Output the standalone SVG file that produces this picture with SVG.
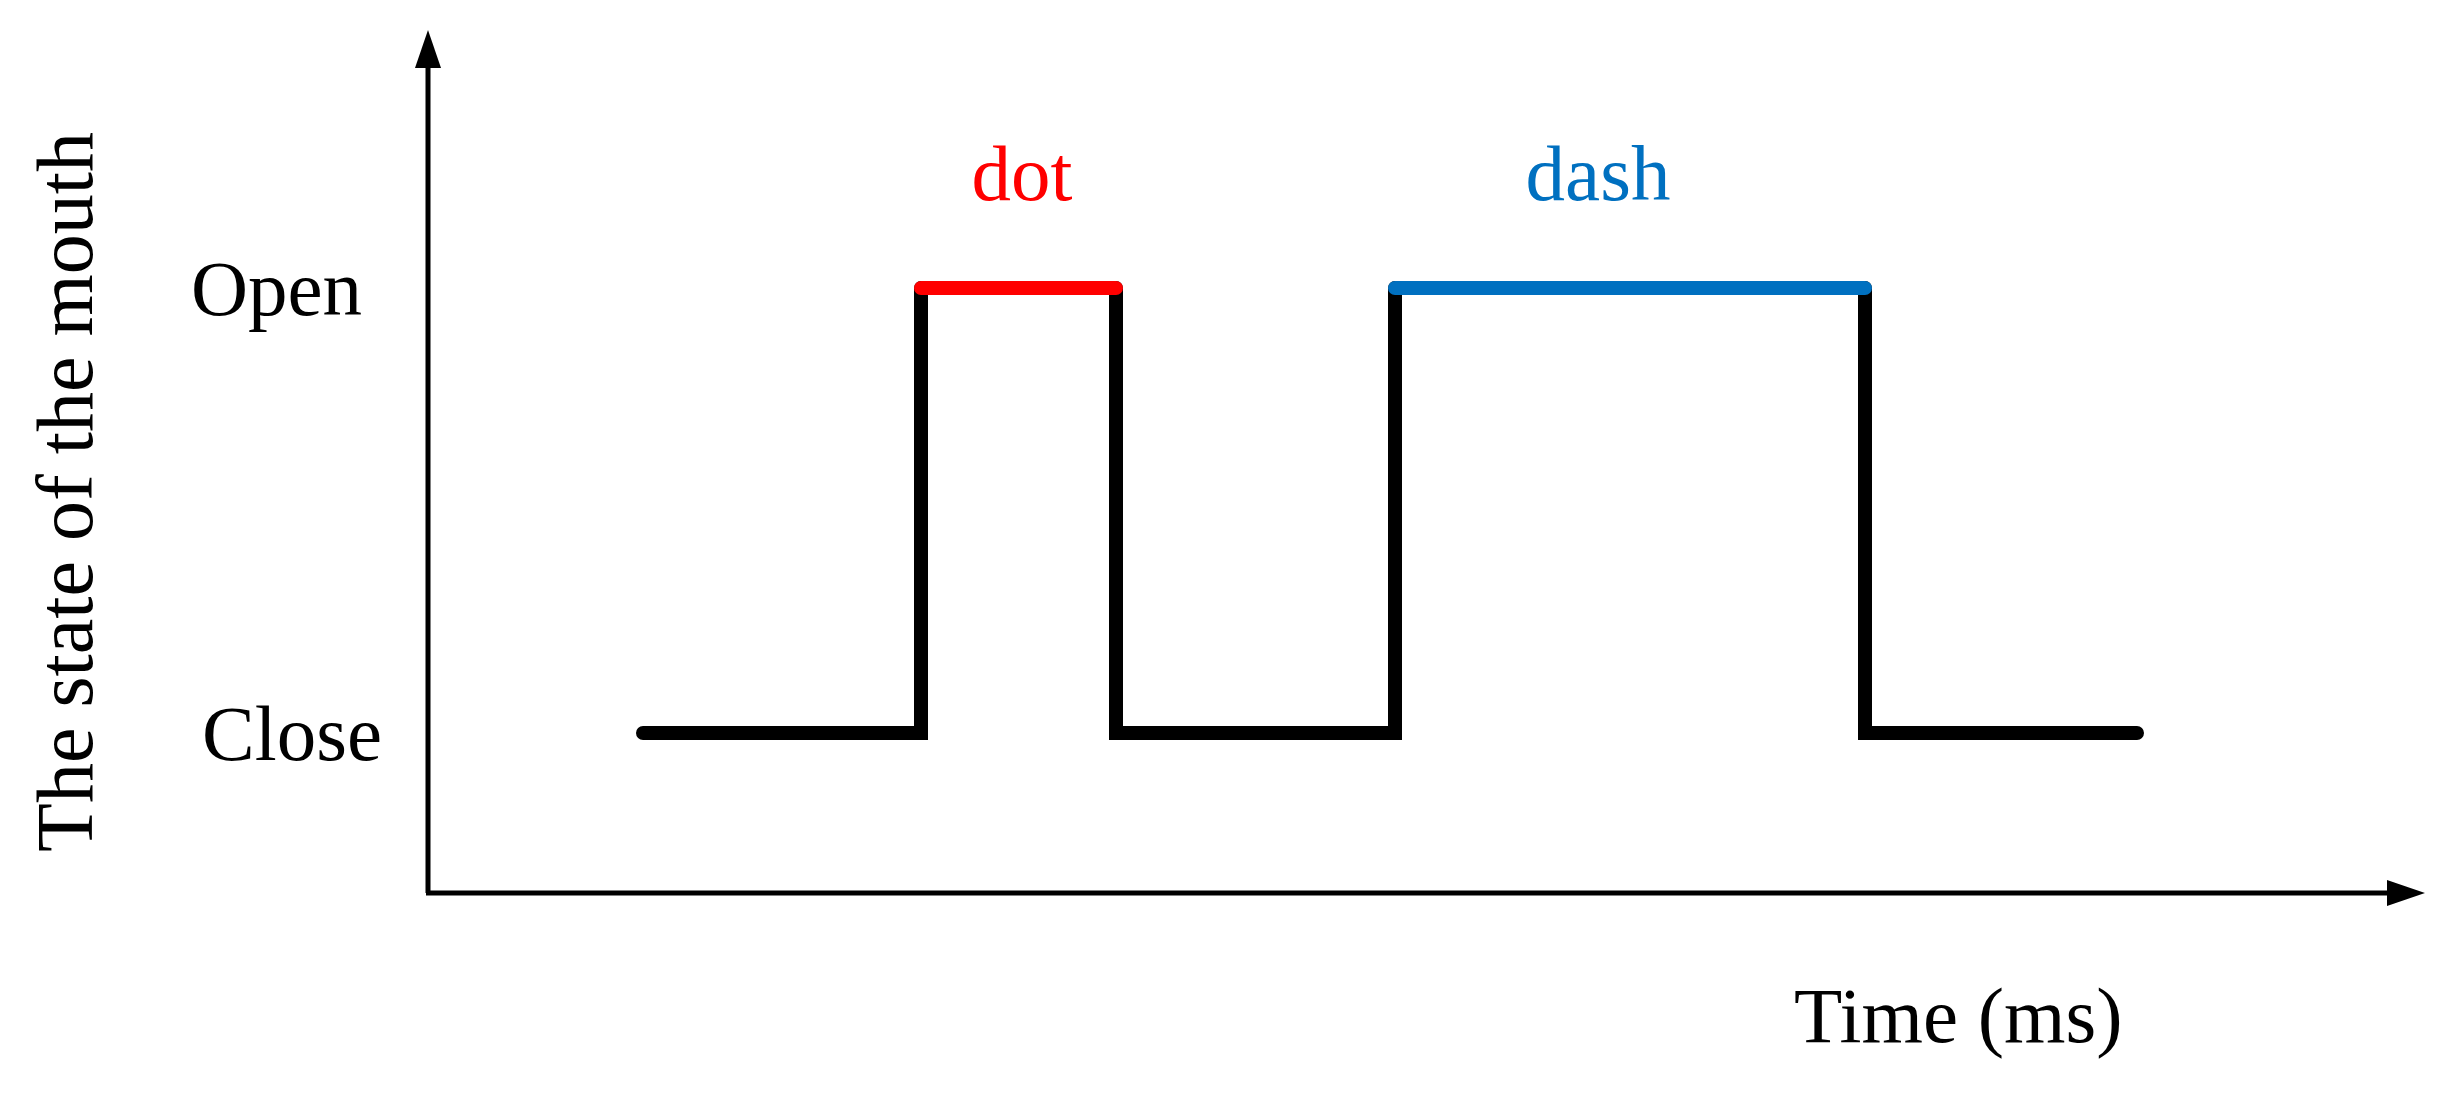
<svg xmlns="http://www.w3.org/2000/svg" width="2457" height="1100" viewBox="0 0 2457 1100">
<style>
text{font-family:"Liberation Serif","Times New Roman",serif;font-size:79px;fill:#000}
.ax{stroke:#000;stroke-width:5;fill:none}
.sig{stroke:#000;stroke-width:14;fill:none;stroke-linecap:round;stroke-linejoin:miter}
</style>
<rect width="2457" height="1100" fill="#fff"/>
<g id="axes">
<line class="ax" x1="428" y1="893" x2="428" y2="60"/>
<polygon points="428,30 415,68 441,68" fill="#000"/>
<line class="ax" x1="426" y1="893" x2="2395" y2="893"/>
<polygon points="2425,893 2387,880 2387,906" fill="#000"/>
</g>
<g id="connectors">
<path class="sig" d="M643,733 H921 V288 M1116,288 V733 H1395 V288 M1865,288 V733 H2137"/>
<line x1="921" y1="288" x2="1116" y2="288" stroke="#ff0000" stroke-width="14" stroke-linecap="round"/>
<line x1="1395" y1="288" x2="1865" y2="288" stroke="#0070c0" stroke-width="14" stroke-linecap="round"/>
</g>
<g id="labels">
<text x="1022" y="200" text-anchor="middle" style="fill:#ff0000">dot</text>
<text x="1598" y="200" text-anchor="middle" style="fill:#0070c0">dash</text>
<text x="362" y="315" text-anchor="end">Open</text>
<text x="382" y="760" text-anchor="end">Close</text>
<text x="1794" y="1042">Time (ms)</text>
<text transform="translate(92,492) rotate(-90)" text-anchor="middle" style="font-size:80px">The state of the mouth</text>
</g>
</svg>
